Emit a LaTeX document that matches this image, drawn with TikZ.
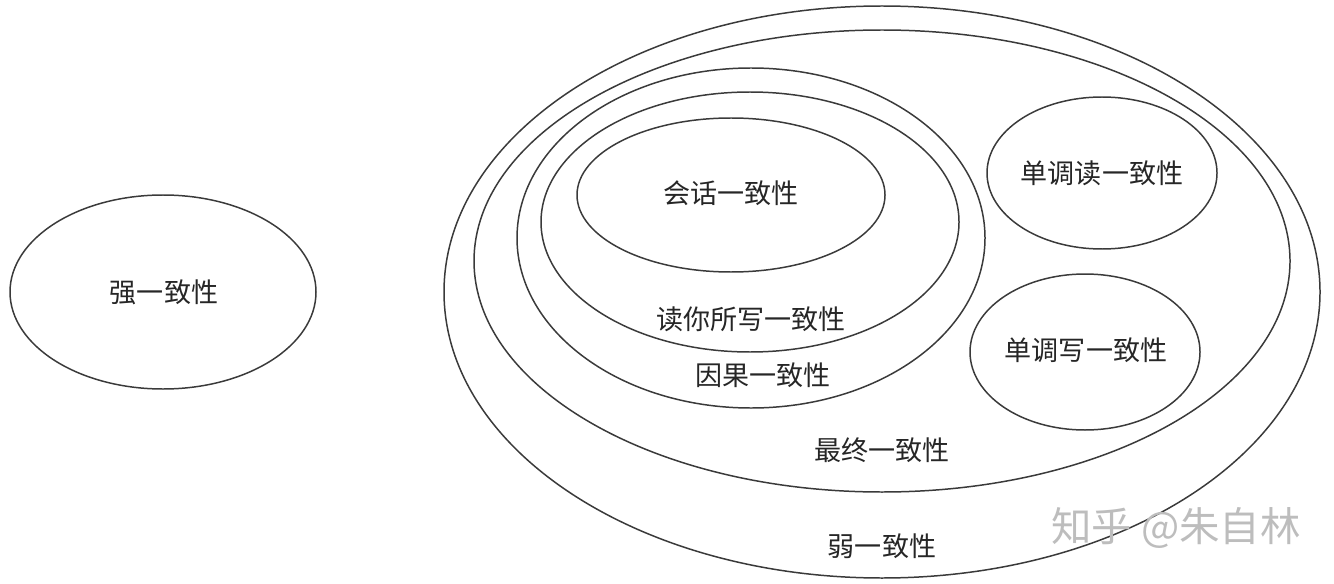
\documentclass[tikz,border=0pt]{standalone}
\usepackage{fontspec}
\setmainfont{Noto Sans CJK SC}
\newfontfamily\cjk{Noto Sans CJK SC}
\definecolor{rim}{HTML}{3A3A3A}
\definecolor{mark}{HTML}{BDBDBD}
\tikzset{
  ring/.style={draw=rim, line width=0.85pt},
  lbl/.style={font=\cjk\fontsize{15.4}{18}\selectfont, text=black!85, inner sep=0pt}
}
\begin{document}
\begin{tikzpicture}[x=0.02cm, y=-0.02cm]
  \useasboundingbox (0,0) rectangle (1334,584);
  % strong side
  \draw[ring] (163,292) ellipse [x radius=153, y radius=97];
  \node[lbl] (strong) at (164,292) {强一致性};
  % weak side, nested
  \draw[ring] (882,292) ellipse [x radius=438, y radius=286];
  \draw[ring] (882,261) ellipse [x radius=408, y radius=231];
  \draw[ring] (751,238) ellipse [x radius=234, y radius=170];
  \draw[ring] (750,222) ellipse [x radius=209, y radius=130];
  \draw[ring] (731,195) ellipse [x radius=154, y radius=77];
  \draw[ring] (1102,173) ellipse [x radius=115, y radius=76];
  \draw[ring] (1085,352) ellipse [x radius=115, y radius=78];
  \node[lbl] (session) at (731,193) {会话一致性};
  \node[lbl] (ryw) at (751,319) {读你所写一致性};
  \node[lbl] (causal) at (763,375) {因果一致性};
  \node[lbl] (monoread) at (1102,173) {单调读一致性};
  \node[lbl] (monowrite) at (1086,350) {单调写一致性};
  \node[lbl] (eventual) at (882,450) {最终一致性};
  \node[lbl] (weak) at (882,546) {弱一致性};
  \node[font=\cjk\fontsize{23}{26}\selectfont, text=mark, inner sep=0pt] (wm) at (1176,528) {知乎 @朱自林};
\end{tikzpicture}
\end{document}
